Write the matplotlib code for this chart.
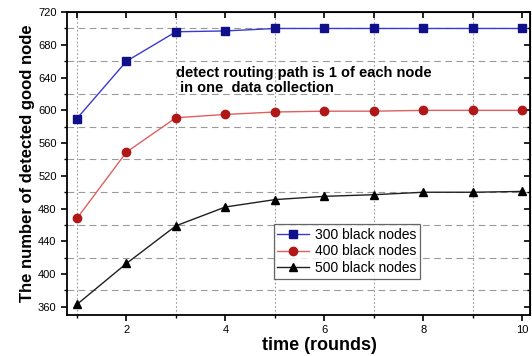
import matplotlib
matplotlib.use("Agg")
import matplotlib.pyplot as plt
from matplotlib.ticker import MultipleLocator

# data
rounds = [1, 2, 3, 4, 5, 6, 7, 8, 9, 10]
nodes_300 = [590, 660, 696, 697, 700, 700, 700, 700, 700, 700]
nodes_400 = [468, 549, 591, 595, 598, 599, 599, 600, 600, 600]
nodes_500 = [363, 413, 459, 482, 491, 495, 497, 500, 500, 501]
labels = ["300 black nodes", "400 black nodes", "500 black nodes"]

plt.rcParams['font.family'] = ['Liberation Sans', 'DejaVu Sans']

fig = plt.figure(figsize=(5.32, 3.56), dpi=100)
ax = fig.add_axes([0.126, 0.115, 0.87, 0.851])

# grid sits on the minor positions, like the Origin original
for y in range(380, 720, 40):
    ax.axhline(y, color="#9a9a9a", lw=0.8, ls=(0, (6, 4)), zorder=0)
for x in range(1, 10, 2):
    ax.axvline(x, color="#9a9a9a", lw=0.8, ls=(0, (1.5, 2)), zorder=0)

ax.plot(rounds, nodes_300, color="#3a3ad0", lw=1.0, marker="s", ms=6,
        mfc="#10108a", mec="#10108a", label=labels[0])
ax.plot(rounds, nodes_400, color="#e06060", lw=1.0, marker="o", ms=6,
        mfc="#b01818", mec="#b01818", label=labels[1])
ax.plot(rounds, nodes_500, color="#202020", lw=1.0, marker="^", ms=6,
        mfc="black", mec="black", label=labels[2])

ax.set_xlim(0.8, 10.15)
ax.set_ylim(350, 720)
ax.xaxis.set_major_locator(MultipleLocator(2))
ax.xaxis.set_minor_locator(MultipleLocator(1))
ax.yaxis.set_major_locator(MultipleLocator(40))
ax.yaxis.set_minor_locator(MultipleLocator(20))
ax.tick_params(axis="both", which="major", labelsize=8, length=4, width=1.2,
               direction="out")
ax.tick_params(axis="both", which="minor", length=2.5, width=1.0,
               direction="out")
for s in ax.spines.values():
    s.set_linewidth(1.3)

# inward ticks on the top and right frame
top = ax.secondary_xaxis("top")
top.xaxis.set_major_locator(MultipleLocator(1))
top.tick_params(direction="in", length=4, width=1.2, labeltop=False)
right = ax.secondary_yaxis("right")
right.yaxis.set_major_locator(MultipleLocator(40))
right.yaxis.set_minor_locator(MultipleLocator(20))
right.tick_params(which="major", direction="in", length=4, width=1.2, labelright=False)
right.tick_params(which="minor", direction="in", length=2.5, width=1.0)

ax.set_xlabel("time (rounds)", fontsize=13, fontweight="bold", labelpad=1)
ax.xaxis.label.set_x(0.545)
ax.set_ylabel("The number of detected good node", fontsize=12,
              fontweight="bold", labelpad=2)

ax.text(3.0, 636, "detect routing path is 1 of each node\n in one  data collection",
        fontsize=10.5, fontweight="bold", va="center", ha="left", linespacing=1.1)

leg = ax.legend(loc="lower left", bbox_to_anchor=(0.447, 0.12), fontsize=10,
                frameon=True, fancybox=False, edgecolor="#404040",
                handlelength=2.3, borderpad=0.25, labelspacing=0.2,
                handletextpad=0.4, borderaxespad=0)
leg.get_frame().set_linewidth(0.9)

fig.savefig("out.png", dpi=100)
